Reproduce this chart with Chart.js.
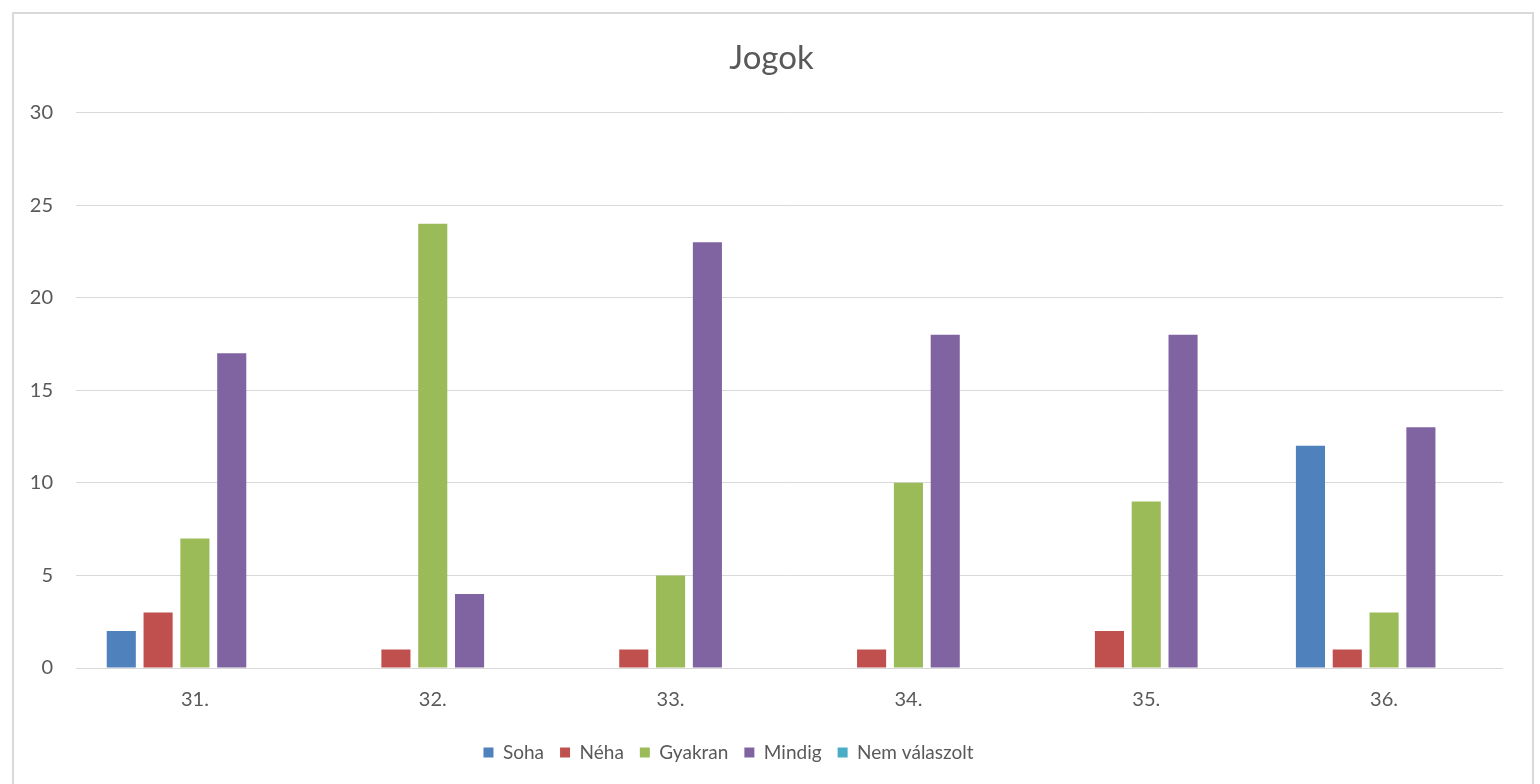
<!DOCTYPE html>
<html>
<head>
<meta charset="utf-8">
<script src="https://cdn.jsdelivr.net/npm/chart.js@4/dist/chart.umd.min.js"></script>
<style>
  html, body { margin: 0; padding: 0; background: #fff; overflow: hidden; }
  #keret {
    position: absolute; left: 12px; top: 12px;
    width: 1518px; height: 790px;
    border: 2px solid #d9d9d9;
  }
  canvas { display: block; }
</style>
</head>
<body>
<div id="keret"><canvas id="myChart" width="1518" height="770"></canvas></div>
<script>
// Adatok
const kategoriak = ['31.', '32.', '33.', '34.', '35.', '36.'];
const soha = [2, 0, 0, 0, 0, 12];
const neha = [3, 1, 1, 1, 2, 1];
const gyakran = [7, 24, 5, 10, 9, 3];
const mindig = [17, 4, 23, 18, 18, 13];
const nemValaszolt = [0, 0, 0, 0, 0, 0];
const yTicks = [0, 5, 10, 15, 20, 25, 30];

const betu = 'Lato, "Open Sans", sans-serif';
const szurke = '#595959';

// Jelmagyarázat balra, cím jobbra tolva, mint az eredetin
const eltolas = {
    id: 'eltolas',
    afterLayout(chart) {
        if (chart.legend) {
            chart.legend.left -= 30;
            chart.legend.right -= 30;
        }
        if (chart.titleBlock) {
            chart.titleBlock.left += 13;
            chart.titleBlock.right += 13;
        }
    }
};

const ctx = document.getElementById('myChart').getContext('2d');
const myChart = new Chart(ctx, {
    type: 'bar',
    data: {
        labels: kategoriak,
        datasets: [
            { label: 'Soha', data: soha, backgroundColor: '#4f81bd' },
            { label: 'Néha', data: neha, backgroundColor: '#c0504d' },
            { label: 'Gyakran', data: gyakran, backgroundColor: '#9bbb59' },
            { label: 'Mindig', data: mindig, backgroundColor: '#8064a2' },
            { label: 'Nem válaszolt', data: nemValaszolt, backgroundColor: '#4bacc6' }
        ]
    },
    options: {
        responsive: false,
        animation: false,
        layout: { padding: { left: 0, right: 29, top: 0, bottom: 12 } },
        datasets: { bar: { barPercentage: 0.79, categoryPercentage: 0.774 } },
        plugins: {
            title: {
                display: true,
                text: 'Jogok',
                color: szurke,
                font: { family: betu, size: 33, weight: 'normal' },
                padding: { top: 25, bottom: 34 }
            },
            legend: {
                position: 'bottom',
                labels: {
                    color: szurke,
                    font: { family: betu, size: 19 },
                    boxWidth: 10,
                    boxHeight: 10,
                    padding: 16
                }
            },
            tooltip: { enabled: false }
        },
        scales: {
            x: {
                grid: { display: false },
                border: { display: false },
                ticks: { color: szurke, font: { family: betu, size: 20 }, padding: 12 },
                afterFit: s => { s.height += 3; }
            },
            y: {
                min: 0,
                max: 30,
                afterBuildTicks: s => { s.ticks = yTicks.map(v => ({ value: v })); },
                grid: { color: '#d9d9d9', lineWidth: 1, drawTicks: false },
                border: { display: false },
                ticks: { color: szurke, font: { family: betu, size: 20 }, padding: 23 },
                afterFit: s => { s.width = 62; }
            }
        }
    },
    plugins: [eltolas]
});
</script>
</body>
</html>
